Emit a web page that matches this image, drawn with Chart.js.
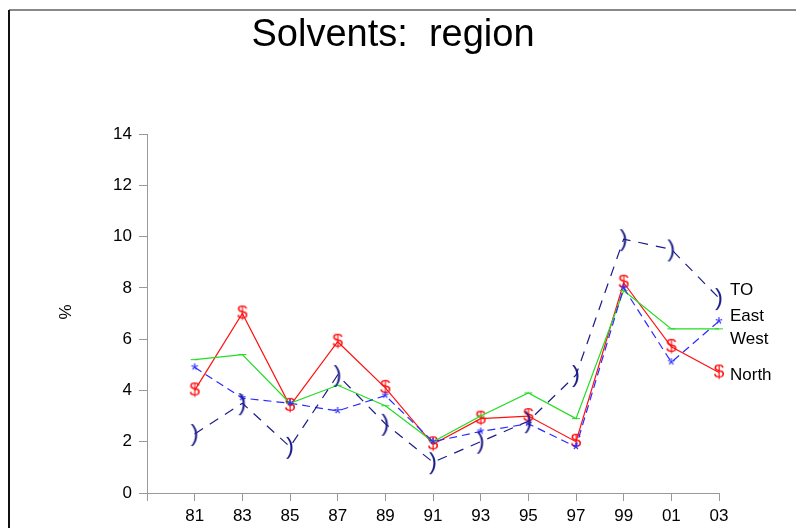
<!DOCTYPE html>
<html>
<head>
<meta charset="utf-8">
<script src="https://cdn.jsdelivr.net/npm/chart.js@4"></script>
<style>
  body { margin: 0; background: #fff; }
  #wrap { width: 796px; height: 528px; }
</style>
</head>
<body>
<div id="wrap"><canvas id="solventsChart" width="796" height="528"></canvas></div>
<script>
var YEARS = ['81','83','85','87','89','91','93','95','97','99','01','03'];
var TO    = [2.3, 3.5, 1.8, 4.6, 2.7, 1.2, 2.0, 2.8, 4.6, 9.9, 9.5, 7.6];
var EAST  = [4.9, 3.7, 3.5, 3.2, 3.8, 2.0, 2.4, 2.7, 1.8, 8.0, 5.1, 6.7];
var WEST  = [5.2, 5.4, 3.5, 4.2, 3.4, 2.0, 3.0, 3.9, 2.9, 7.9, 6.4, 6.4];
var NORTH = [4.0, 7.0, 3.4, 5.9, 4.1, 1.9, 2.9, 3.0, 2.0, 8.2, 5.7, 4.7];
var SERIES_NAMES = ['TO', 'East', 'West', 'North'];
var LABEL_AT = [7.9, 6.9, 6.0, 4.6];   // y value where each end label sits

var FONT = 'Arial, "Liberation Sans", sans-serif';

// small canvas with one character, used as a point marker
function glyph(ch, color, fontSize, dy) {
    var size = 30;
    var c = document.createElement('canvas');
    c.width = size; c.height = size;
    var g = c.getContext('2d');
    g.fillStyle = color;
    g.font = fontSize + 'px ' + FONT;
    g.textAlign = 'center';
    g.textBaseline = 'middle';
    g.fillText(ch, size / 2, size / 2 + (dy || 0));
    return c;
}

function toPoints(arr) {
    return arr.map((v, i) => ({ x: i, y: v }));
}

var endLabels = {
    id: 'endLabels',
    beforeDraw(chart) {
        var ctx = chart.ctx;
        ctx.save();
        ctx.fillStyle = '#fff';
        ctx.fillRect(0, 0, chart.width, chart.height);
        ctx.strokeStyle = '#888';
        ctx.lineWidth = 2;
        ctx.beginPath(); ctx.moveTo(9, 10); ctx.lineTo(796, 10); ctx.stroke();
        ctx.strokeStyle = '#111';
        ctx.beginPath(); ctx.moveTo(9, 10); ctx.lineTo(9, 528); ctx.stroke();
        ctx.restore();
    },
    afterDraw(chart) {
        var ctx = chart.ctx, y = chart.scales.y;
        ctx.save();
        ctx.fillStyle = '#000';
        ctx.textBaseline = 'middle';
        ctx.textAlign = 'center';
        ctx.font = '38px ' + FONT;
        ctx.fillText('Solvents:  region', 393, 36);
        ctx.font = '17px ' + FONT;
        ctx.textAlign = 'left';
        SERIES_NAMES.forEach((name, i) => {
            ctx.fillText(name, 730, y.getPixelForValue(LABEL_AT[i]));
        });
        ctx.translate(66, 312);
        ctx.rotate(-Math.PI / 2);
        ctx.textAlign = 'center';
        ctx.fillText('%', 0, 0);
        ctx.restore();
    }
};

var CHART_CONFIG = {
    type: 'line',
    data: {
        datasets: [
            { label: 'TO', data: toPoints(TO), borderColor: '#1c1c8a', borderWidth: 1.2,
              borderDash: [10, 8], clip: false, pointStyle: glyph(')', '#1c1c8a', 24, 0) },
            { label: 'East', data: toPoints(EAST), borderColor: '#2a2aff', borderWidth: 1.2,
              borderDash: [8, 5], clip: false, pointStyle: glyph('*', '#2a2aff', 19, 4) },
            { label: 'West', data: toPoints(WEST), borderColor: '#22dd22', borderWidth: 1.2,
              clip: false, pointStyle: 'line', pointRadius: 4,
              pointBorderColor: '#22dd22', pointBorderWidth: 1 },
            { label: 'North', data: toPoints(NORTH), borderColor: '#ff1010', borderWidth: 1.2,
              clip: false, pointStyle: glyph('$', '#ff1010', 19, 0) }
        ]
    },
    options: {
        responsive: false,
        animation: false,
        layout: { padding: { left: 10, top: 134, right: 77, bottom: 0 } },
        plugins: {
            legend: { display: false },
            title: { display: false },
            tooltip: { enabled: false }
        },
        scales: {
            x: {
                type: 'linear', min: -1, max: 11,
                afterFit: s => { s.height = 35; },
                ticks: { stepSize: 1, color: '#000', padding: 5,
                         font: { size: 17, family: FONT },
                         callback: v => YEARS[v] || '' },
                grid: { drawOnChartArea: false, tickLength: 8, color: '#999' },
                border: { color: '#999' }
            },
            y: {
                min: 0, max: 14,
                afterFit: s => { s.width = 137; },
                ticks: { stepSize: 2, color: '#000', padding: 7,
                         font: { size: 17, family: FONT } },
                grid: { drawOnChartArea: false, tickLength: 8, color: '#999' },
                border: { color: '#999' }
            }
        }
    },
    plugins: [endLabels]
};

var CHART = new Chart(document.getElementById('solventsChart'), CHART_CONFIG);
</script>
</body>
</html>
